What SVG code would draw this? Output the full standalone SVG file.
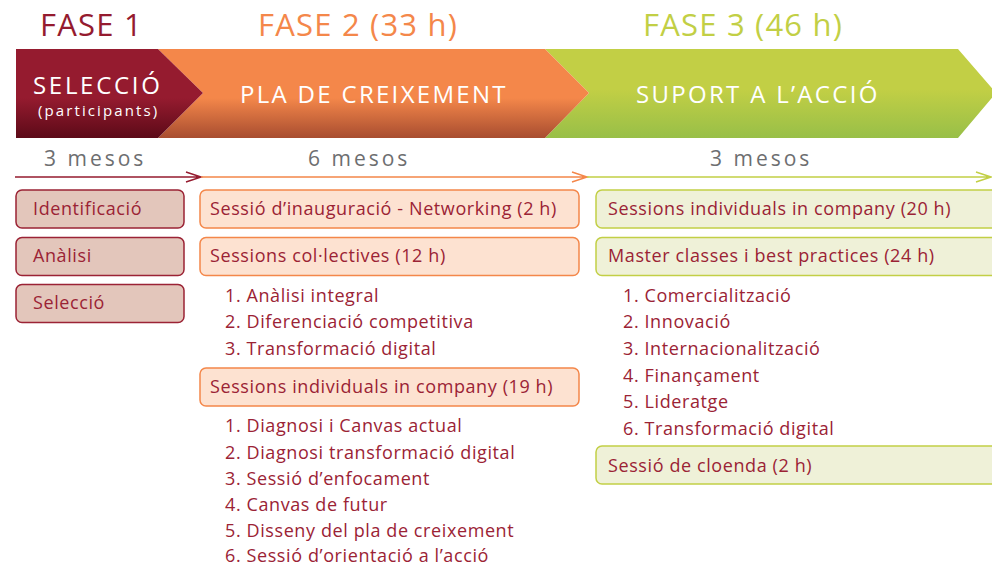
<svg xmlns="http://www.w3.org/2000/svg" width="992" height="567" viewBox="0 0 992 567">
<defs>
<linearGradient id="gRed" x1="0" y1="0" x2="0" y2="1">
<stop offset="0" stop-color="#951b2f"/><stop offset="0.55" stop-color="#951b2f"/><stop offset="1" stop-color="#5c0a18"/>
</linearGradient>
<linearGradient id="gOrange" x1="0" y1="0" x2="0" y2="1">
<stop offset="0" stop-color="#f4874a"/><stop offset="0.55" stop-color="#f4874a"/><stop offset="1" stop-color="#a84d30"/>
</linearGradient>
<linearGradient id="gGreen" x1="0" y1="0" x2="0" y2="1">
<stop offset="0" stop-color="#c2cf45"/><stop offset="0.45" stop-color="#c2cf45"/><stop offset="1" stop-color="#98bf48"/>
</linearGradient>
</defs>
<style>
text{font-family:"Open Sans",Lato,"DejaVu Sans",sans-serif}
.fase{font-size:31px;letter-spacing:1.2px}
.ban{font-size:24px;fill:#ffffff;letter-spacing:2.3px}
.mes{font-size:21px;fill:#6d6e70;letter-spacing:3px}
.t{font-size:18px;fill:#9b2335;letter-spacing:0.6px}
.b1{fill:#e3c6bb;stroke:#9b2335;stroke-width:1.5}
.b2{fill:#fde2d1;stroke:#f4874a;stroke-width:1.5}
.b3{fill:#eff1d8;stroke:#c2cf45;stroke-width:1.5}
</style>
<g id="headers">
<text class="fase" x="40" y="36" fill="#951b2f">FASE 1</text>
<text class="fase" x="258" y="36" fill="#f4874a">FASE 2 (33 h)</text>
<text class="fase" x="643" y="36" fill="#c2cf45">FASE 3 (46 h)</text>
</g>
<g id="banner">
<polygon points="545,49 958,49 996,93 958,138 545,138 589,93" fill="url(#gGreen)"/>
<polygon points="158,49 545,49 589,93 545,138 158,138 203,93" fill="url(#gOrange)"/>
<polygon points="16,49 158,49 203,93 158,138 16,138" fill="url(#gRed)"/>
<text class="ban" x="33" y="94" style="letter-spacing:2.7px">SELECCIÓ</text>
<text x="38" y="116" style="font-size:15px;fill:#fff;letter-spacing:2.1px">(participants)</text>
<text class="ban" x="240" y="103">PLA DE CREIXEMENT</text>
<text class="ban" x="636" y="103">SUPORT A L’ACCIÓ</text>
</g>
<g id="durations">
<text class="mes" x="44" y="166">3 mesos</text>
<text class="mes" x="308" y="166">6 mesos</text>
<text class="mes" x="710" y="166">3 mesos</text>
</g>
<g id="connectors" fill="none" stroke-width="1.5">
<path d="M15,177 H201 M186,172 L201,177 L186,182" stroke="#951b2f"/>
<path d="M201,177 H587 M572,172 L587,177 L572,182" stroke="#f4874a"/>
<path d="M587,177 H991 M976,172 L991,177 L976,182" stroke="#c2cf45"/>
</g>
<g id="f1-identificacio"><rect class="b1" x="16" y="190" width="168" height="38" rx="6"/><text class="t" x="33" y="215">Identificació</text></g>
<g id="f1-analisi"><rect class="b1" x="16" y="237.5" width="168" height="38" rx="6"/><text class="t" x="33" y="262">Anàlisi</text></g>
<g id="f1-seleccio"><rect class="b1" x="16" y="284.5" width="168" height="38" rx="6"/><text class="t" x="33" y="309">Selecció</text></g>
<g id="f2-inauguracio"><rect class="b2" x="200" y="190" width="379" height="38" rx="6"/><text class="t" x="210" y="215">Sessió d’inauguració - Networking (2 h)</text></g>
<g id="f2-collectives"><rect class="b2" x="200" y="237.5" width="379" height="38" rx="6"/><text class="t" x="210" y="262">Sessions col·lectives (12 h)</text></g>
<g id="f2-list1">
<text class="t" x="225" y="302">1. Anàlisi integral</text>
<text class="t" x="225" y="328">2. Diferenciació competitiva</text>
<text class="t" x="225" y="355">3. Transformació digital</text>
</g>
<g id="f2-individuals"><rect class="b2" x="200" y="368" width="379" height="38" rx="6"/><text class="t" x="210" y="393">Sessions individuals in company (19 h)</text></g>
<g id="f2-list2">
<text class="t" x="225" y="432">1. Diagnosi i Canvas actual</text>
<text class="t" x="225" y="459">2. Diagnosi transformació digital</text>
<text class="t" x="225" y="485">3. Sessió d’enfocament</text>
<text class="t" x="225" y="511">4. Canvas de futur</text>
<text class="t" x="225" y="537">5. Disseny del pla de creixement</text>
<text class="t" x="225" y="562">6. Sessió d’orientació a l’acció</text>
</g>
<g id="f3-individuals"><rect class="b3" x="596" y="190" width="410" height="38" rx="6"/><text class="t" x="608" y="215">Sessions individuals in company (20 h)</text></g>
<g id="f3-master"><rect class="b3" x="596" y="237.5" width="410" height="38" rx="6"/><text class="t" x="608" y="262">Master classes i best practices (24 h)</text></g>
<g id="f3-list">
<text class="t" x="623" y="302">1. Comercialització</text>
<text class="t" x="623" y="328">2. Innovació</text>
<text class="t" x="623" y="355">3. Internacionalització</text>
<text class="t" x="623" y="382">4. Finançament</text>
<text class="t" x="623" y="408">5. Lideratge</text>
<text class="t" x="623" y="435">6. Transformació digital</text>
</g>
<g id="f3-cloenda"><rect class="b3" x="596" y="446" width="410" height="38" rx="6"/><text class="t" x="608" y="472">Sessió de cloenda (2 h)</text></g>
</svg>
